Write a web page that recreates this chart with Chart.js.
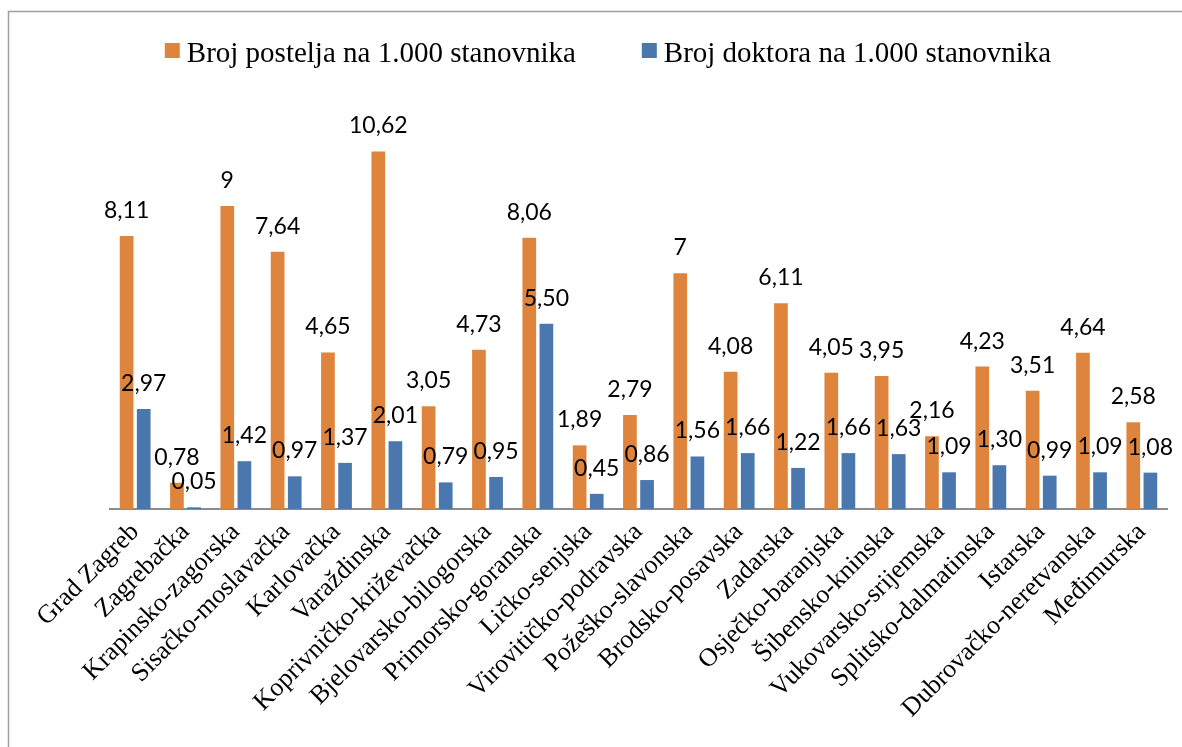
<!DOCTYPE html>
<html>
<head>
<meta charset="utf-8">
<script src="https://cdn.jsdelivr.net/npm/chart.js@4.4.0/dist/chart.umd.min.js"></script>
<style>
  body { margin: 0; background: #fff; }
  #wrap { position: relative; width: 1182px; height: 747px; }
</style>
</head>
<body>
<div id="wrap"><canvas id="chart1"></canvas></div>
<script>
let categories = ["Grad Zagreb", "Zagrebačka", "Krapinsko-zagorska", "Sisačko-moslavačka", "Karlovačka",
  "Varaždinska", "Koprivničko-križevačka", "Bjelovarsko-bilogorska", "Primorsko-goranska", "Ličko-senjska",
  "Virovitičko-podravska", "Požeško-slavonska", "Brodsko-posavska", "Zadarska", "Osječko-baranjska",
  "Šibensko-kninska", "Vukovarsko-srijemska", "Splitsko-dalmatinska", "Istarska", "Dubrovačko-neretvanska",
  "Međimurska"];
let beds = [8.11, 0.78, 9, 7.64, 4.65, 10.62, 3.05, 4.73, 8.06, 1.89, 2.79, 7, 4.08, 6.11, 4.05, 3.95, 2.16, 4.23, 3.51, 4.64, 2.58];
let doctors = [2.97, 0.05, 1.42, 0.97, 1.37, 2.01, 0.79, 0.95, 5.50, 0.45, 0.86, 1.56, 1.66, 1.22, 1.66, 1.63, 1.09, 1.30, 0.99, 1.09, 1.08];
let seriesNames = ["Broj postelja na 1.000 stanovnika", "Broj doktora na 1.000 stanovnika"];
let colors = ["#DE843D", "#4A77AE"];

function fmt(v) {
  return Number.isInteger(v) ? String(v) : v.toFixed(2).replace('.', ',');
}

function chart1() {
  let ctx = document.getElementById('chart1').getContext("2d");
  let myChart = new Chart(ctx, {
    type: "bar",
    data: {
      labels: categories,
      datasets: [{
        label: seriesNames[0],
        data: beds,
        backgroundColor: colors[0],
        categoryPercentage: 0.68,
        barPercentage: 0.8
      }, {
        label: seriesNames[1],
        data: doctors,
        backgroundColor: colors[1],
        categoryPercentage: 0.68,
        barPercentage: 0.8
      }]
    },
    options: {
      responsive: true,
      maintainAspectRatio: false,
      animation: false,
      scales: {
        y: {
          display: false,
          min: 0,
          max: 12
        },
        x: {
          grid: { display: false },
          border: { display: true, color: "#8c8c8c", width: 2 },
          ticks: {
            color: "#000",
            minRotation: 45,
            maxRotation: 45,
            padding: 0,
            font: { family: "Liberation Serif", size: 26 }
          },
          afterFit: (scale) => { scale.height = 238; }
        }
      },
      plugins: {
        legend: { display: false },
        tooltip: { enabled: false }
      },
      layout: {
        padding: { left: 110, right: 15, top: 105, bottom: 0 }
      }
    },
    plugins: [{
      id: 'chart1',
      beforeDraw: (chart) => {
        const ctx = chart.ctx;
        ctx.save();
        ctx.strokeStyle = '#a0a0a0';
        ctx.lineWidth = 1.5;
        ctx.strokeRect(8.5, 11.5, 1400, 1000);
        ctx.restore();
      },
      afterDatasetsDraw: (chart) => {
        const ctx = chart.ctx;
        ctx.save();
        ctx.font = '23px Lato';
        ctx.fillStyle = '#000';
        ctx.textAlign = 'center';
        ctx.textBaseline = 'alphabetic';
        chart.data.datasets.forEach((ds, i) => {
          chart.getDatasetMeta(i).data.forEach((bar, j) => {
            ctx.fillText(fmt(ds.data[j]), bar.x, bar.y - 18);
          });
        });
        ctx.restore();
      },
      afterDraw: (chart) => {
        // legend, laid out like the original
        const ctx = chart.ctx;
        ctx.save();
        ctx.font = '29px "Liberation Serif"';
        const w = seriesNames.map(s => ctx.measureText(s).width);
        const total = 22 + w[0] + 66 + 22 + w[1];
        let x = 608 - total / 2;
        ctx.textBaseline = 'alphabetic';
        seriesNames.forEach((s, i) => {
          ctx.fillStyle = colors[i];
          ctx.fillRect(x, 43, 15, 15);
          ctx.fillStyle = '#000';
          ctx.fillText(s, x + 22, 62);
          x += 22 + w[i] + 66;
        });
        ctx.restore();
      }
    }]
  });
}

chart1();
</script>
</body>
</html>
